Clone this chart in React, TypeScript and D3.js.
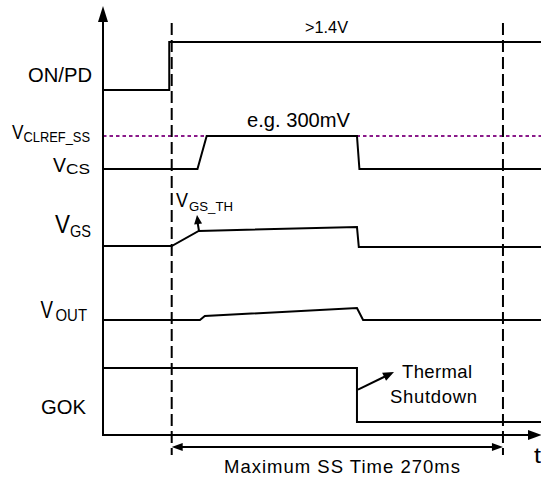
import React from 'react';
import * as d3 from 'd3';

// ---- data (time in ms, levels normalised per row) ----
const timeDomain: [number, number] = [-56, 301];
const markerTimes = [0, 270];
const onPdWave: [number, number][] = [[-56, 0], [-2, 0], [-2, 1], [301, 1]];
const vcsWave: [number, number][] = [[-56, 0], [21, 0], [28.5, 1], [151, 1], [153, 0], [301, 0]];
const vgsWave: [number, number][] = [[-56, 0], [0, 0], [22, 1], [151, 1.27], [152.5, -0.07], [301, -0.07]];
const voutWave: [number, number][] = [[-56, 0], [23, 0], [27, 1], [151, 3], [156, 0], [301, 0]];
const gokWave: [number, number][] = [[-56, 1], [151, 1], [151, 0], [301, 0]];
const clrefLevel = 1;
const thermalShutdownTime = 151;
const annotationTexts = ['>1.4V', 'e.g. 300mV', 'Maximum SS Time 270ms', 'Thermal', 'Shutdown', 't'];
const rowLabelMain = ['ON/PD', 'V', 'V', 'V', 'V', 'GOK'];
const rowLabelSub = ['', 'CLREF_SS', 'CS', 'GS', 'OUT', ''];
const thresholdLabel = ['V', 'GS_TH'];

const W = 541, H = 478;
const FONT = '"Liberation Sans", Arial, Helvetica, sans-serif';

// row layout: pixel of level 0 and level 1
const rowLayout = {
  onpd: [90, 42],
  vcs: [169, 136],
  vgs: [246, 231],
  vout: [320, 316],
  gok: [422, 368],
};

function arrowHead(tx: number, ty: number, fx: number, fy: number, len = 11, hw = 4.5) {
  const dx = tx - fx, dy = ty - fy;
  const d = Math.hypot(dx, dy);
  const ux = dx / d, uy = dy / d;
  const bx = tx - ux * len, by = ty - uy * len;
  const px = -uy * hw, py = ux * hw;
  return `${tx},${ty} ${bx + px},${by + py} ${bx - px},${by - py}`;
}

type T = { s: string; x: number; y: number; fs: number; w: number; adj?: string };
const Txt = ({ s, x, y, fs, w, adj = 'spacingAndGlyphs' }: T) => (
  <text x={x} y={y} fontSize={fs} textLength={w} lengthAdjust={adj} fill="#000">{s}</text>
);

export default function App() {
  const x = d3.scaleLinear().domain(timeDomain).range([103, 541]);
  const rowScale = (k: keyof typeof rowLayout) =>
    d3.scaleLinear().domain([0, 1]).range(rowLayout[k]);
  const mk = (k: keyof typeof rowLayout, data: [number, number][]) => {
    const y = rowScale(k);
    return d3.line<[number, number]>().x(d => x(d[0])).y(d => y(d[1]))(data) || '';
  };
  const waves: [keyof typeof rowLayout, [number, number][]][] = [
    ['onpd', onPdWave], ['vcs', vcsWave], ['vgs', vgsWave], ['vout', voutWave], ['gok', gokWave],
  ];
  const yVcs = rowScale('vcs');
  const yGok = rowScale('gok');
  const x0 = x(markerTimes[0]), x1 = x(markerTimes[1]);
  const axisX = 103, axisY = 435;
  const tsX = x(thermalShutdownTime) + 1;

  return (
    <svg width={W} height={H} style={{ position: 'absolute', left: 0, top: 0, display: 'block', background: '#fff' }}
      fontFamily={FONT}>
      <rect x={0} y={0} width={W} height={H} fill="#fff" />
      {/* purple reference dotted */}
      <line x1={axisX} x2={W} y1={yVcs(clrefLevel)} y2={yVcs(clrefLevel)} stroke="#8a1a8a" strokeWidth={2} strokeDasharray="3.5,3" />
      {/* dashed markers */}
      {markerTimes.map((t, i) => (
        <line key={i} x1={x(t)} x2={x(t)} y1={23} y2={455} stroke="#000" strokeWidth={2} strokeDasharray="12,5" />
      ))}
      {/* waves */}
      {waves.map(([k, d]) => (
        <path key={k} d={mk(k, d)} fill="none" stroke="#000" strokeWidth={2} strokeLinejoin="miter" />
      ))}
      {/* axes */}
      <line x1={axisX} x2={axisX} y1={18} y2={axisY + 1} stroke="#000" strokeWidth={2} />
      <polygon points={arrowHead(axisX, 6, axisX, 40, 16, 5)} fill="#000" />
      <line x1={axisX - 1} x2={530} y1={axisY} y2={axisY} stroke="#000" strokeWidth={2} />
      <polygon points={arrowHead(542, axisY, 500, axisY, 14, 5)} fill="#000" />
      {/* max SS time arrow */}
      <line x1={x0 + 4} x2={x1 - 4} y1={447} y2={447} stroke="#000" strokeWidth={2} />
      <polygon points={arrowHead(x0, 447, x1, 447, 11, 4)} fill="#000" />
      <polygon points={arrowHead(x1, 447, x0, 447, 11, 4)} fill="#000" />
      {/* VGS_TH arrow */}
      <line x1={199} y1={231} x2={197.5} y2={222} stroke="#000" strokeWidth={2} />
      <polygon points={arrowHead(197, 215, 199, 231, 9, 4)} fill="#000" />
      {/* thermal shutdown arrow */}
      <line x1={tsX} y1={yGok(0.6)} x2={387} y2={375.5} stroke="#000" strokeWidth={2} />
      <polygon points={arrowHead(394, 372, tsX, yGok(0.6), 11, 4.5)} fill="#000" />

      {/* annotation texts */}
      <Txt s={annotationTexts[0]} x={305} y={33} fs={16.5} w={43} />
      <Txt s={annotationTexts[1]} x={247} y={127} fs={20} w={103} />
      <Txt s={annotationTexts[2]} x={224} y={473} fs={18.5} w={236} adj="spacing" />
      <Txt s={annotationTexts[3]} x={402} y={378} fs={18.5} w={70} adj="spacing" />
      <Txt s={annotationTexts[4]} x={390} y={403} fs={18.5} w={87} adj="spacing" />
      <Txt s={annotationTexts[5]} x={534} y={463} fs={22} w={7} />

      {/* VGS_TH label */}
      <Txt s={thresholdLabel[0]} x={176} y={207} fs={19.5} w={12} />
      <Txt s={thresholdLabel[1]} x={189} y={211} fs={13} w={44} />

      {/* row labels */}
      <Txt s={rowLabelMain[0]} x={28} y={82} fs={21} w={64} />
      <Txt s={rowLabelMain[1]} x={12} y={139} fs={19.5} w={11.5} />
      <Txt s={rowLabelSub[1]} x={23.5} y={142} fs={14} w={66.5} />
      <Txt s={rowLabelMain[2]} x={53} y={172} fs={21} w={13} />
      <Txt s={rowLabelSub[2]} x={66} y={174} fs={14.5} w={24} />
      <Txt s={rowLabelMain[3]} x={55} y={233} fs={25} w={15} />
      <Txt s={rowLabelSub[3]} x={70} y={237} fs={16.5} w={21} />
      <Txt s={rowLabelMain[4]} x={40.5} y={318} fs={24} w={12.5} />
      <Txt s={rowLabelSub[4]} x={55.5} y={320.5} fs={17} w={31.5} />
      <Txt s={rowLabelMain[5]} x={41} y={414} fs={21} w={45} />
    </svg>
  );
}
